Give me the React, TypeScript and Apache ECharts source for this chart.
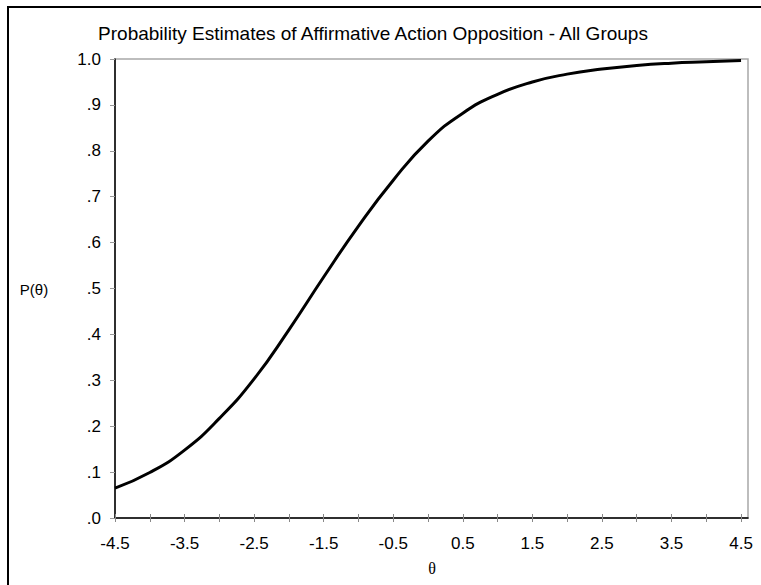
import React, { useEffect, useRef } from "react";
import * as echarts from "echarts";

const thetaValues = [-4.5, -4.0, -3.5, -3.0, -2.5, -2.0, -1.5, -1.0, -0.5, 0.0, 0.5, 1.0, 1.5, 2.0, 2.5, 3.0, 3.5, 4.0, 4.5];
const probValues = [0.065, 0.099, 0.148, 0.217, 0.303, 0.41, 0.525, 0.636, 0.736, 0.821, 0.882, 0.923, 0.95, 0.967, 0.978, 0.986, 0.991, 0.994, 0.997];
const xTickValues = [-4.5, -4, -3.5, -3, -2.5, -2, -1.5, -1, -0.5, 0, 0.5, 1, 1.5, 2, 2.5, 3, 3.5, 4, 4.5];
const xLabelValues = [-4.5, -3.5, -2.5, -1.5, -0.5, 0.5, 1.5, 2.5, 3.5, 4.5];
const titleText = "Probability Estimates of Affirmative Action Opposition - All Groups";
const yAxisTitle = "P(θ)";
const xAxisTitle = "θ";

const FONT = "'Liberation Sans', Arial, Helvetica, sans-serif";

export default function App() {
  const ref = useRef<HTMLDivElement>(null);
  useEffect(() => {
    if (!ref.current) return;
    const chart = echarts.init(ref.current, undefined, { renderer: "svg" });
    const data = thetaValues.map((t, i) => [t, probValues[i]]);
    chart.setOption({
      animation: false,
      backgroundColor: "#ffffff",
      grid: {
        left: 115,
        top: 59,
        right: 13,
        bottom: 67,
        show: true,
        borderColor: "#a8a8a8",
        borderWidth: 1.5,
        backgroundColor: "transparent",
      },
      xAxis: [
        {
          type: "value",
          min: -4.5,
          max: 4.6,
          splitLine: { show: false },
          axisLine: { show: true, onZero: false, lineStyle: { color: "#000", width: 1.5 } },
          axisTick: { show: true, inside: false, length: 4, customValues: xTickValues, lineStyle: { color: "#888", width: 1 } },
          axisLabel: {
            show: true,
            customValues: xLabelValues,
            margin: 17,
            color: "#000",
            fontSize: 17,
            fontFamily: FONT,
            formatter: (v: number) => v.toFixed(1),
          },
        },
        {
          type: "value",
          position: "bottom",
          offset: 0,
          min: -4.5,
          max: 4.6,
          splitLine: { show: false },
          axisLine: { show: false },
          axisTick: { show: true, inside: true, length: 4, customValues: xTickValues, lineStyle: { color: "#888", width: 1 } },
          axisLabel: { show: false },
        },
      ],
      yAxis: {
        type: "value",
        min: 0,
        max: 1,
        interval: 0.1,
        splitLine: { show: false },
        axisLine: { show: true, onZero: false, lineStyle: { color: "#000", width: 1.5 } },
        axisTick: { show: true, inside: false, length: 5, lineStyle: { color: "#999", width: 1 } },
        axisLabel: {
          margin: 14,
          color: "#000",
          fontSize: 17,
          fontFamily: FONT,
          formatter: (v: number) => (Math.abs(v - 1) < 1e-9 ? "1.0" : "." + Math.round(v * 10)),
        },
      },
      series: [
        {
          type: "line",
          xAxisIndex: 0,
          data,
          smooth: 0.5,
          showSymbol: false,
          symbol: "none",
          lineStyle: { color: "#000", width: 3 },
          z: 3,
        },
      ],
      graphic: [
        {
          type: "rect",
          shape: { x: 8, y: 7, width: 820, height: 700 },
          style: { fill: "none", stroke: "#000", lineWidth: 2 },
          silent: true,
        },
        {
          type: "text",
          x: 373,
          y: 33,
          style: {
            text: titleText,
            fill: "#000",
            font: `19px ${FONT}`,
            textAlign: "center",
            textVerticalAlign: "middle",
          },
        },
        {
          type: "text",
          x: 34,
          y: 289,
          style: {
            text: yAxisTitle,
            fill: "#000",
            font: `15px ${FONT}`,
            textAlign: "center",
            textVerticalAlign: "middle",
          },
        },
        {
          type: "text",
          x: 432,
          y: 568,
          style: {
            text: xAxisTitle,
            fill: "#000",
            font: `16px 'Liberation Serif', 'Times New Roman', serif`,
            textAlign: "center",
            textVerticalAlign: "middle",
          },
        },
      ],
    });
    return () => chart.dispose();
  }, []);
  return (
    <div
      ref={ref}
      style={{ position: "fixed", left: 0, top: 0, width: 761, height: 585, background: "#fff" }}
    />
  );
}
